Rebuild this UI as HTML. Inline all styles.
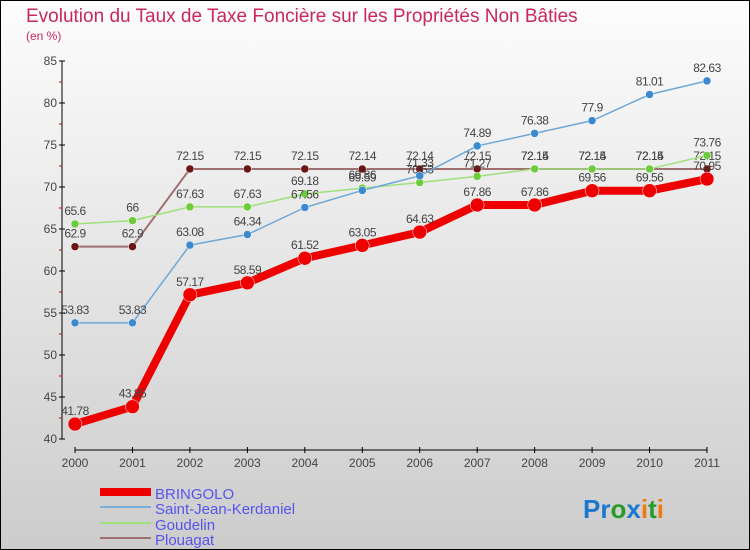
<!DOCTYPE html>
<html><head><meta charset="utf-8"><style>
body{margin:0}
#c{width:750px;height:550px;position:relative;overflow:hidden}
svg{font-family:"Liberation Sans",sans-serif}
</style></head><body>
<div id="c">
<svg id="s" width="750" height="550" xmlns="http://www.w3.org/2000/svg">
<defs><linearGradient id="bg" x1="0" y1="0" x2="0" y2="1"><stop offset="0" stop-color="#fdfdfd"/><stop offset="1" stop-color="#cccccc"/></linearGradient></defs>
<rect x="0.5" y="0.5" width="749" height="549" fill="url(#bg)" stroke="#000"/>
<text x="26" y="22" font-size="19" fill="#c8285a">Evolution du Taux de Taxe Foncière sur les Propriétés Non Bâties</text>
<text x="26" y="40" font-size="12" fill="#c8285a">(en %)</text>
<g id="axes"></g><g id="series"></g>
<g>
<line x1="100" y1="492" x2="151" y2="492" stroke="#e00" stroke-width="8"/>
<text x="155" y="499" font-size="15" fill="#5555ee">BRINGOLO</text>
<line x1="100" y1="507" x2="151" y2="507" stroke="#7aaedb" stroke-width="2"/>
<text x="155" y="514" font-size="15" fill="#5555ee">Saint-Jean-Kerdaniel</text>
<line x1="100" y1="523" x2="151" y2="523" stroke="#9ee07a" stroke-width="2"/>
<text x="155" y="530" font-size="15" fill="#5555ee">Goudelin</text>
<line x1="100" y1="538" x2="151" y2="538" stroke="#a07070" stroke-width="2"/>
<text x="155" y="545" font-size="15" fill="#5555ee">Plouagat</text>
</g>
<text x="583" y="518" font-size="26" font-weight="bold"><tspan fill="#1a78d0">Pr</tspan><tspan fill="#2a9a2a">o</tspan><tspan fill="#1a78d0">x</tspan><tspan fill="#f07a10">i</tspan><tspan fill="#2a9a2a">t</tspan><tspan fill="#f07a10">i</tspan></text>
</svg></div>
<script>
const years=["2000","2001","2002","2003","2004","2005","2006","2007","2008","2009","2010","2011"];
const yTicks=[40,45,50,55,60,65,70,75,80,85];
const bringolo=[41.78,43.85,57.17,58.59,61.52,63.05,64.63,67.86,67.86,69.56,69.56,70.95];
const sjk=[53.83,53.83,63.08,64.34,67.56,69.59,71.33,74.89,76.38,77.9,81.01,82.63];
const goudelin=[65.6,66,67.63,67.63,69.18,69.86,70.53,71.27,72.15,72.15,72.15,73.76];
const plouagat=[62.9,62.9,72.15,72.15,72.15,72.14,72.14,72.15,72.14,72.14,72.14,72.15];
const NS="http://www.w3.org/2000/svg";
const X=i=>75+i*(707-75)/(years.length-1);
const Y=v=>439-(v-40)*(439-61)/45;
function mk(p,t,a){const e=document.createElementNS(NS,t);for(const k in a)e.setAttribute(k,a[k]);p.appendChild(e);return e;}
const ax=document.getElementById('axes');
let e=mk(ax,'line',{x1:62,y1:Y(85),x2:62,y2:Y(40),stroke:'#000'});


e=mk(ax,'line',{x1:75,y1:450,x2:707,y2:450,stroke:'#000'});


yTicks.forEach(v=>{
 mk(ax,'line',{x1:59,y1:Y(v),x2:65,y2:Y(v),stroke:'#000'});
 if(v<85) mk(ax,'line',{x1:59,y1:Y(v+2.5),x2:62,y2:Y(v+2.5),stroke:'#d00'});
 const t=mk(ax,'text',{x:57,y:Y(v)+4,'font-size':12,fill:'#444','text-anchor':'end'});t.textContent=v;
 
 
});
years.forEach((y,i)=>{
 mk(ax,'line',{x1:X(i),y1:447,x2:X(i),y2:453,stroke:'#000'});
 const t=mk(ax,'text',{x:X(i),y:467,'font-size':12,fill:'#444','text-anchor':'middle'});t.textContent=y;
 
 
});
const sg=document.getElementById('series');
function draw(vals,name,col,dot,w,r){
 const g=mk(sg,'g',{});
 
 
 const l=mk(g,'polyline',{points:vals.map((v,i)=>X(i)+','+Y(v)).join(' '),fill:'none',stroke:col,'stroke-width':w,'stroke-linejoin':'round'});
 
 
 vals.forEach((v,i)=>{
  const c=mk(g,'circle',{cx:X(i),cy:Y(v),r:r,fill:dot,stroke:'#fff','stroke-width':0.5});
  
  
  const t=mk(g,'text',{x:X(i),y:Y(v)-9,'font-size':12,fill:'#444','text-anchor':'middle','letter-spacing':'-0.5'});t.textContent=v;
  
  
 });
}
draw(plouagat,'plouagat','#a07070','#6b1515',2,4);
draw(goudelin,'goudelin','#9ee07a','#6ccc3c',1.5,4);
draw(sjk,'sjk','#6ea8d8','#3b8ad0',1.5,4);
draw(bringolo,'bringolo','#e00','#e00',8,7);
</script>
</body></html>
